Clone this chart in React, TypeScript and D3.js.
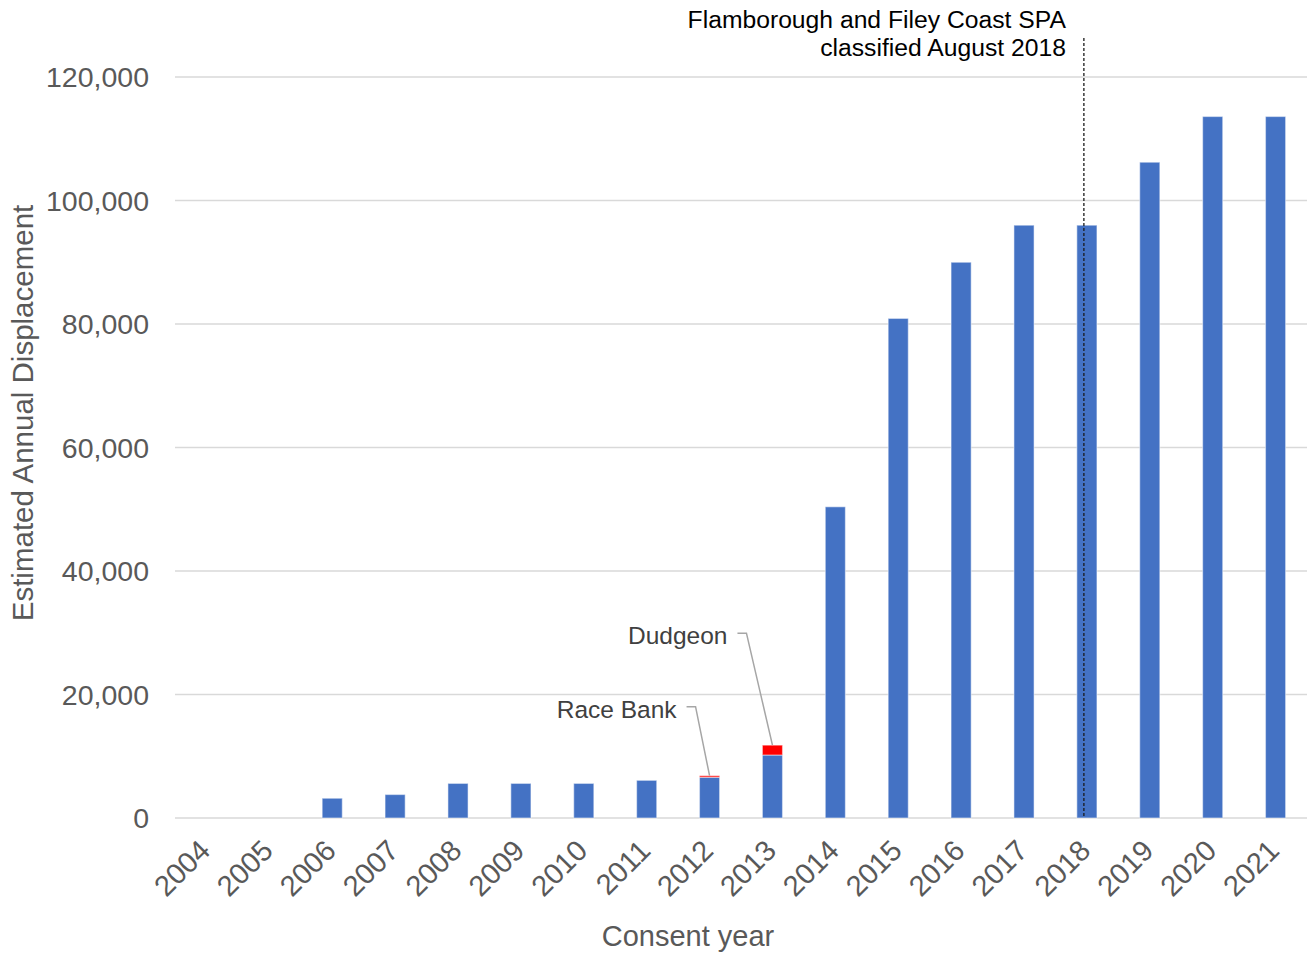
import React, { useEffect, useRef } from 'react';
import * as d3 from 'd3';

const years = ['2004', '2005', '2006', '2007', '2008', '2009', '2010', '2011', '2012',
    '2013', '2014', '2015', '2016', '2017', '2018', '2019', '2020', '2021'];

// displacement from projects consented each year (cumulative)
const baseValues = [0, 0, 3200, 3800, 5600, 5600, 5600, 6100, 6600,
    10200, 50400, 80900, 90000, 96000, 96000, 106200, 113600, 113600];

// highlighted projects (Race Bank 2012, Dudgeon 2013)
const highlightValues = [0, 0, 0, 0, 0, 0, 0, 0, 250,
    1600, 0, 0, 0, 0, 0, 0, 0, 0];

const yTicks = [0, 20000, 40000, 60000, 80000, 100000, 120000];

const callouts = [
    { label: 'Race Bank', year: '2012' },
    { label: 'Dudgeon', year: '2013' },
];

const markerYear = '2018';
const markerLines = ['Flamborough and Filey Coast SPA', 'classified August 2018'];

export default function App() {
    const ref = useRef(null);

    const width = 1307;
    const height = 953;
    const font = '"Liberation Sans", Arial, sans-serif';

    useEffect(() => {
        const svg = d3.select(ref.current);
        svg.selectAll('*').remove();

        const x = d3.scaleBand()
            .domain(years)
            .range([175, 1307])
            .paddingInner(0.68)
            .paddingOuter(0.34);

        const y = d3.scaleLinear()
            .domain([0, 120000])
            .range([818, 77]);

        const rows = years.map((yr, i) => ({ year: yr, base: baseValues[i], extra: highlightValues[i] }));
        const stacked = d3.stack().keys(['base', 'extra'])(rows);
        const colors = { base: '#4472C4', extra: '#FF0000' };

        // gridlines
        svg.append('g')
            .selectAll('line')
            .data(yTicks)
            .enter()
            .append('line')
            .attr('x1', 175)
            .attr('x2', 1307)
            .attr('y1', (d) => y(d))
            .attr('y2', (d) => y(d))
            .style('stroke', '#D9D9D9')
            .style('stroke-width', 1.5);

        // y tick labels
        svg.append('g')
            .selectAll('text')
            .data(yTicks)
            .enter()
            .append('text')
            .attr('x', 149)
            .attr('y', (d) => y(d))
            .attr('dy', '0.36em')
            .attr('text-anchor', 'end')
            .style('font-family', font)
            .style('font-size', '28.5px')
            .style('fill', '#595959')
            .text((d) => d3.format(',')(d));

        // bars
        stacked.forEach((layer) => {
            svg.append('g')
                .selectAll('rect')
                .data(layer)
                .enter()
                .filter((d) => d[1] - d[0] > 0)
                .append('rect')
                .attr('x', (d) => x(d.data.year))
                .attr('width', x.bandwidth())
                .attr('y', (d) => y(d[1]))
                .attr('height', (d) => y(d[0]) - y(d[1]))
                .style('fill', colors[layer.key])
                .style('stroke', 'rgba(255,255,255,0.45)')
                .style('stroke-width', 1.2);
        });

        // x tick labels
        svg.append('g')
            .selectAll('text')
            .data(years)
            .enter()
            .append('text')
            .attr('transform', (d) => `translate(${x(d) + x.bandwidth() / 2 - 2}, ${845}) rotate(-45)`)
            .attr('text-anchor', 'end')
            .attr('dy', '0.36em')
            .style('font-family', font)
            .style('font-size', '29px')
            .style('fill', '#595959')
            .text((d) => d);

        // axis titles
        svg.append('text')
            .attr('transform', 'translate(33, 413) rotate(-90)')
            .attr('text-anchor', 'middle')
            .style('font-family', font)
            .style('font-size', '29.5px')
            .style('fill', '#595959')
            .text('Estimated Annual Displacement');

        svg.append('text')
            .attr('x', 688)
            .attr('y', 946)
            .attr('text-anchor', 'middle')
            .style('font-family', font)
            .style('font-size', '29px')
            .style('fill', '#595959')
            .text('Consent year');

        // callouts with leader lines
        callouts.forEach((c) => {
            const i = years.indexOf(c.year);
            const cx = x(c.year) + x.bandwidth() / 2;
            const top = y(baseValues[i] + highlightValues[i]);
            const textEnd = cx - 33 - (c.label === 'Dudgeon' ? 12 : 0);
            const textY = top - (c.label === 'Dudgeon' ? 110 : 67);
            svg.append('text')
                .attr('x', textEnd)
                .attr('y', textY)
                .attr('dy', '0.36em')
                .attr('text-anchor', 'end')
                .style('font-family', font)
                .style('font-size', '24.5px')
                .style('fill', '#404040')
                .text(c.label);
            svg.append('path')
                .attr('d', d3.line()([[textEnd + 10, textY - 2], [textEnd + 19, textY - 2], [cx, top]]))
                .style('fill', 'none')
                .style('stroke', '#A6A6A6')
                .style('stroke-width', 1.5);
        });

        // SPA classification marker
        const mx = x(markerYear) + x.bandwidth() / 2 - 3;
        svg.append('line')
            .attr('x1', mx)
            .attr('x2', mx)
            .attr('y1', 38)
            .attr('y2', y(0))
            .style('stroke', '#1a1a1a')
            .style('stroke-width', 1.3)
            .style('stroke-dasharray', '3,2');

        svg.append('g')
            .selectAll('text')
            .data(markerLines)
            .enter()
            .append('text')
            .attr('x', mx - 18)
            .attr('y', (_, i) => 28 + i * 28)
            .attr('text-anchor', 'end')
            .style('font-family', font)
            .style('font-size', '24.7px')
            .style('fill', '#000000')
            .text((d) => d);
    }, []);

    return (
        <svg
            ref={ref}
            width={width}
            height={height}
            style={{ position: 'absolute', left: 0, top: 0, background: '#fff' }}
        />
    );
}
